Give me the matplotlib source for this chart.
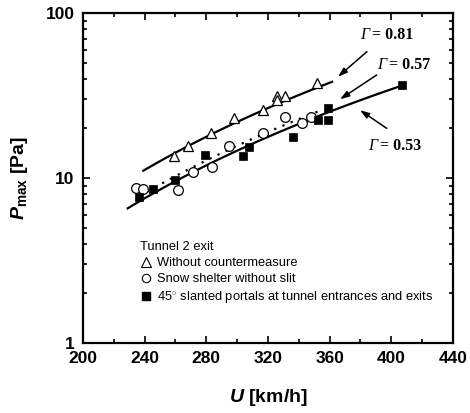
import numpy as np
import matplotlib
matplotlib.use("Agg")
import matplotlib.pyplot as plt
from matplotlib.lines import Line2D

plt.rcParams['font.family'] = ['Liberation Sans', 'DejaVu Sans']
plt.rcParams['mathtext.fontset'] = 'custom'
plt.rcParams['mathtext.it'] = 'Liberation Sans:italic:bold'
plt.rcParams['mathtext.rm'] = 'Liberation Sans:bold'
plt.rcParams['mathtext.bf'] = 'Liberation Sans:bold'

# ---- data ----
tri_U = [259, 268, 283, 298, 317, 326, 326, 331, 352]
tri_P = [13.6, 15.6, 18.8, 23.0, 25.8, 31.5, 29.7, 31.5, 37.8]

circ_U = [234.4, 239.1, 261.8, 271.5, 283.9, 295.0, 316.5, 331.0, 341.8, 347.9]
circ_P = [8.66, 8.6, 8.5, 10.9, 11.7, 15.6, 18.7, 23.3, 21.5, 23.5]

sq_U = [236.5, 245.1, 259.7, 279.1, 303.6, 307.7, 336.2, 352.4, 359.1, 359.1, 407.2]
sq_P = [7.7, 8.6, 9.7, 13.8, 13.6, 15.5, 17.6, 22.5, 22.5, 26.4, 36.4]

# fitted power-law lines (end points)
fitT_U = [239.1, 361.6]; fitT_P = [11.07, 38.3]
fitC_U = [241.3, 354.8]; fitC_P = [8.22, 25.8]
fitS_U = [229.0, 407.2]; fitS_P = [6.55, 36.4]

labels = ["Without countermeasure", "Snow shelter without slit",
          "45$^{\\circ}$ slanted portals at tunnel entrances and exits"]
gammas = ["0.81", "0.57", "0.53"]
gamma_text_pos = [(379.6, 73.5), (390.7, 48.4), (384.8, 15.6)]
gamma_arrow_tail = [(384.2, 58.3), (390.5, 42.1), (397.0, 20.0)]
gamma_arrow_head = [(365.4, 41.1), (366.7, 30.0), (379.6, 25.8)]

xticks = [200, 240, 280, 320, 360, 400, 440]
yticks = [1, 10, 100]


def powerlaw(U, P):
    n = np.log(P[1] / P[0]) / np.log(U[1] / U[0])
    u = np.linspace(U[0], U[1], 60)
    return u, P[0] * (u / U[0]) ** n


fig = plt.figure(figsize=(4.70, 4.13), dpi=100)
ax = fig.add_axes([0.1766, 0.1695, 0.7872, 0.799])

u, p = powerlaw(fitT_U, fitT_P)
ax.plot(u, p, color='black', lw=1.6)
u, p = powerlaw(fitC_U, fitC_P)
ax.plot(u, p, color='black', lw=1.6, ls=(0, (1, 3)))
u, p = powerlaw(fitS_U, fitS_P)
ax.plot(u, p, color='black', lw=1.6)

ax.plot(tri_U, tri_P, ls='none', marker='^', ms=7.5, mfc='white', mec='black', mew=0.9)
ax.plot(circ_U, circ_P, ls='none', marker='o', ms=7, mfc='white', mec='black', mew=0.9)
ax.plot(sq_U, sq_P, ls='none', marker='s', ms=6, mfc='black', mec='black', mew=0.5)

ax.set_yscale('log')
ax.set_xlim(200, 440)
ax.set_ylim(1, 100)
ax.set_xticks(xticks)
ax.set_xticks(np.arange(220, 440, 40), minor=True)
ax.set_yticks(yticks)
ax.set_yticklabels([str(t) for t in yticks])
ax.yaxis.set_minor_formatter(plt.NullFormatter())

for s in ax.spines.values():
    s.set_linewidth(1.6)
ax.tick_params(which='both', direction='in', top=True, right=True, width=1.2)
ax.tick_params(which='major', length=5, pad=6, labelsize=12.5)
ax.tick_params(which='minor', length=3)
for lab in ax.get_xticklabels() + ax.get_yticklabels():
    lab.set_fontweight('bold')

ax.set_xlabel(r'$U$ [km/h]', fontsize=14, fontweight='bold', labelpad=15)
ax.set_ylabel(r'$P_{\mathrm{max}}$ [Pa]', fontsize=14, fontweight='bold', labelpad=11)

for g, tp, ta, hd in zip(gammas, gamma_text_pos, gamma_arrow_tail, gamma_arrow_head):
    ax.text(tp[0], tp[1], 'Γ', family='Liberation Serif', style='italic',
            fontsize=11.5, va='center', ha='left')
    ax.annotate('= ' + g, xy=tp, xytext=(9, 0), textcoords='offset points',
                family='Liberation Serif', fontweight='bold', fontsize=11.5,
                va='center', ha='left')
    ax.annotate('', xy=hd, xytext=ta,
                arrowprops=dict(arrowstyle='-|>,head_length=0.55,head_width=0.18',
                                lw=1.1, color='black', shrinkA=0, shrinkB=0))

handles = [
    Line2D([], [], ls='none', marker='^', ms=6.5, mfc='white', mec='black', mew=0.8),
    Line2D([], [], ls='none', marker='o', ms=6, mfc='white', mec='black', mew=0.8),
    Line2D([], [], ls='none', marker='s', ms=5.5, mfc='black', mec='black'),
]
leg = ax.legend(handles, labels, title='Tunnel 2 exit', loc='lower left',
                bbox_to_anchor=(0.155, 0.113), frameon=False, fontsize=9.3,
                title_fontsize=9.3, alignment='left', handlelength=0.8,
                handletextpad=0.5, labelspacing=0.3, borderpad=0, borderaxespad=0)

fig.savefig('out.png', dpi=100)
